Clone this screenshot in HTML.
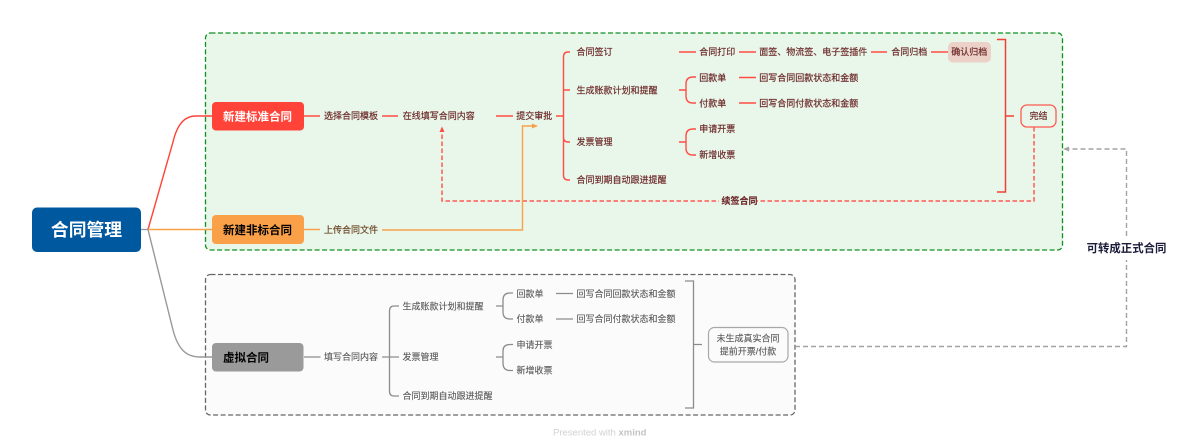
<!DOCTYPE html>
<html><head><meta charset="utf-8">
<style>
html,body{margin:0;padding:0;background:#fff;width:1200px;height:448px;overflow:hidden}
svg{display:block}
text{font-family:"Liberation Sans","Noto Sans CJK SC",sans-serif;font-size:9px}
.r text{fill:#6e2b2b;stroke:#6e2b2b;stroke-width:.18px}
.g text{fill:#585858;stroke:#585858;stroke-width:.12px}
.b{font-weight:700}
</style></head><body>
<svg width="1200" height="448" viewBox="0 0 1200 448" xmlns="http://www.w3.org/2000/svg">
<rect x="0" y="0" width="1200" height="448" fill="#fff"/>
<!-- group boxes -->
<rect x="205.500" y="33" width="857" height="217" rx="5" fill="#e8f7ea" stroke="#0f9120" stroke-width="1.300" stroke-dasharray="5 2.500"/>
<rect x="205.500" y="274.500" width="589.500" height="140.500" rx="5" fill="#fbfbfb" stroke="#666" stroke-width="1.300" stroke-dasharray="5 2.500"/>

<!-- root connectors -->
<path d="M141 229.500H148" stroke="#8a9aa8" stroke-width="1.300" fill="none"/>
<path d="M148 229.500L173 142C177 125 184 116 196 116H212" stroke="#ff4338" stroke-width="1.400" fill="none"/>
<path d="M148 229.500H212" stroke="#f9a049" stroke-width="1.400" fill="none"/>
<path d="M148 229.500L173 330C178 349 186 357 200 357H212" stroke="#999" stroke-width="1.400" fill="none"/>

<!-- nodes -->
<rect x="32" y="207.500" width="109" height="44.500" rx="5" fill="#00589f"/>
<text x="86.500" y="236" text-anchor="middle" class="b" style="font-size:17.800px" fill="#fff">合同管理</text>
<rect x="212" y="102" width="92" height="28.500" rx="4" fill="#ff4338"/>
<text x="257.500" y="120.300" text-anchor="middle" class="b" style="font-size:11.500px" fill="#fff">新建标准合同</text>
<rect x="212" y="215" width="92" height="29" rx="4" fill="#f9a049"/>
<text x="257.500" y="233.800" text-anchor="middle" class="b" style="font-size:11.500px" fill="#000">新建非标合同</text>
<rect x="212" y="343" width="91.500" height="28.500" rx="4" fill="#9a9a9a"/>
<text x="223" y="361.500" class="b" style="font-size:11.500px" fill="#000">虚拟合同</text>

<!-- red lines -->
<g stroke="#ff4d45" stroke-width="1.400" fill="none">
<path d="M304 116H320M382 116H398M496 116H513M556 116H563.500"/>
<path d="M570 52H568Q563.500 52 563.500 57V175Q563.500 180 568 180H570M563.500 90Q563.500 90 570 90M563.500 137Q563.500 142 568 142H570"/>
<path d="M679 52H696M739 52H756M871 52H887M931 52H948"/>
<path d="M679 90H686M696 77H693Q686 77 686 84V96Q686 103 693 103H696"/>
<path d="M739 77.500H756M739 103H756"/>
<path d="M679 142H686M696 129H693Q686 129 686 136V148Q686 155 693 155H696"/>
<path d="M997 39.500H1005.500V192H997M1005.500 116H1014" stroke-width="1.500" stroke="#f04038"/>
</g>
<path d="M1034 127V201H442V132" stroke="#ff5a52" stroke-width="1.500" stroke-dasharray="4.500 2.500" fill="none"/>
<path d="M442 126.500L439.500 132H444.500Z" fill="#ff4d45"/>
<rect x="719" y="196" width="38" height="10" fill="#e8f7ea"/>

<!-- orange lines -->
<path d="M304 229.500H320M382 230H522.500V126H533" stroke="#f9a049" stroke-width="1.400" fill="none"/>
<path d="M538 126L532 123.500V128.500Z" fill="#f9a049"/>

<!-- gray lines -->
<g stroke="#8c8c8c" stroke-width="1.300" fill="none">
<path d="M304 357H320.500M382 357H389.500M389.500 357H399"/>
<path d="M399 306H394Q389.500 306 389.500 311V391Q389.500 396 394 396H399"/>
<path d="M496 306H503M513 293H510Q503 293 503 300V312Q503 319 510 319H513"/>
<path d="M496 357H503M513 344.500H510Q503 344.500 503 351V363Q503 370.500 510 370.500H513"/>
<path d="M556 293.500H573M556 319H573"/>
<path d="M685 281H693.500V408H685M693.500 344.500H702"/>
</g>
<rect x="708.500" y="327.500" width="79.500" height="34.500" rx="6" fill="#fbfbfb" stroke="#a8a8a8" stroke-width="1.200"/>
<path d="M795 346.500H1126.500V260M1126.500 236V149H1069" stroke="#a3a3a3" stroke-width="1.400" stroke-dasharray="5 3" fill="none"/>
<path d="M1063 149L1069 146.500V151.500Z" fill="#a3a3a3"/>

<!-- red section -->
<rect x="948" y="42" width="43" height="20.500" rx="5" fill="#ebd1c7"/>
<rect x="1021" y="105" width="35" height="22" rx="6" fill="#e8f7ea" stroke="#ff5a52" stroke-width="1.300"/>
<g class="r">
<text x="324" y="119.200">选择合同模板</text>
<text x="402.700" y="119.200">在线填写合同内容</text>
<text x="516.300" y="119.200">提交审批</text>
<text x="576.500" y="55.200">合同签订</text>
<text x="576.500" y="93.700">生成账款计划和提醒</text>
<text x="576.500" y="145">发票管理</text>
<text x="576.500" y="183.200">合同到期自动跟进提醒</text>
<text x="699.300" y="55.200">合同打印</text>
<text x="759.300" y="55.200">面签、物流签、电子签插件</text>
<text x="891.300" y="55.200">合同归档</text>
<text x="951.300" y="55.200">确认归档</text>
<text x="699.300" y="81">回款单</text>
<text x="759.300" y="81">回写合同回款状态和金额</text>
<text x="699.300" y="106.500">付款单</text>
<text x="759.300" y="106.500">回写合同付款状态和金额</text>
<text x="699.300" y="132">申请开票</text>
<text x="699.300" y="157.800">新增收票</text>
<text x="1029.500" y="119.200">完结</text>
<text x="721.500" y="204" class="b">续签合同</text>
</g>
<text x="324" y="232.800" fill="#6e4a2b" stroke="#6e4a2b" stroke-width=".18">上传合同文件</text>

<!-- gray section -->
<g class="g">
<text x="324" y="360.200">填写合同内容</text>
<text x="402.500" y="309.500">生成账款计划和提醒</text>
<text x="402.500" y="360.200">发票管理</text>
<text x="402.500" y="399">合同到期自动跟进提醒</text>
<text x="516.500" y="296.800">回款单</text>
<text x="576.500" y="296.800">回写合同回款状态和金额</text>
<text x="516.500" y="322">付款单</text>
<text x="576.500" y="322">回写合同付款状态和金额</text>
<text x="516.500" y="347.800">申请开票</text>
<text x="516.500" y="373.500">新增收票</text>
<text x="748" y="341.500" text-anchor="middle">未生成真实合同</text>
<text x="748" y="354.500" text-anchor="middle">提前开票/付款</text>
</g>

<text x="1126.500" y="251.800" text-anchor="middle" class="b" style="font-size:11.400px" fill="#1b1b3a">可转成正式合同</text>
<text x="553" y="435.500" style="font-size:9.500px" fill="#d2d2d2">Presented with <tspan font-weight="700" fill="#c4c4c4">xmind</tspan></text>
</svg>
</body></html>
